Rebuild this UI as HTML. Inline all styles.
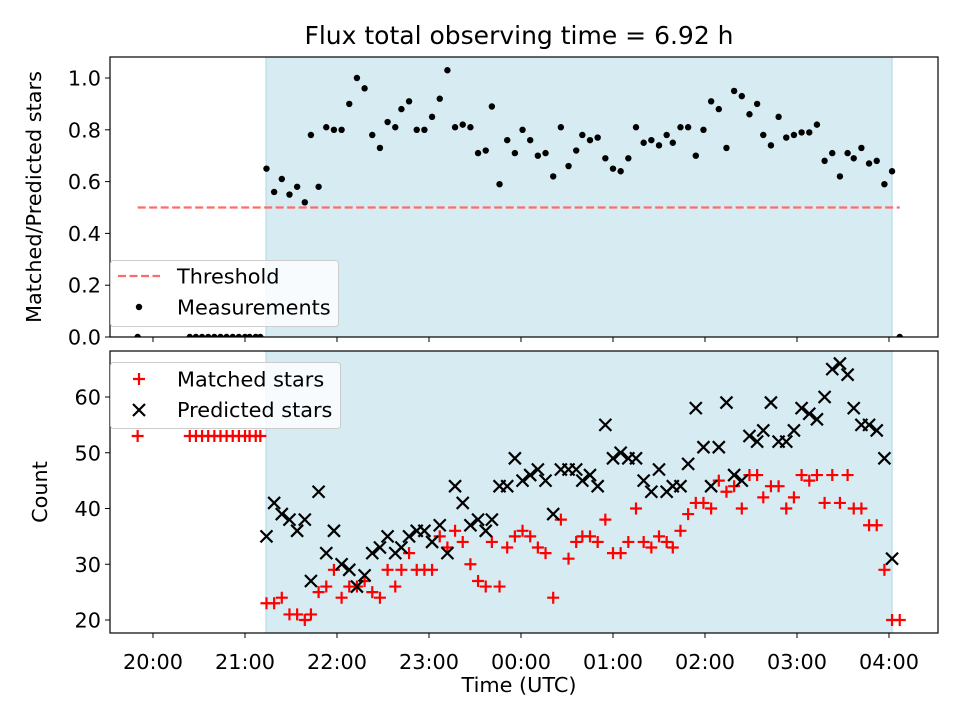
<!DOCTYPE html>
<html><head><meta charset="utf-8"><style>
body{margin:0;background:#fff}
svg text{font-family:"DejaVu Sans","Liberation Sans",sans-serif;fill:#000}
</style></head><body>
<svg id="chart" width="960" height="720" xmlns="http://www.w3.org/2000/svg">
<text x="519" y="44" style="font-size:25px" text-anchor="middle">Flux total observing time = 6.92 h</text>
<g id="top"></g>
<g id="bot"></g>
</svg>
<script>
const times=[74,79,84,89,94,99,103,108,113,118,123,128,133,138,143,148,153,158,162,167,172,177,182,187,192,197,202,207,212,217,221,226,231,236,241,246,251,256,261,266,271,276,280,285,290,295,300,305,310,315,320,325,330,335,339,344,349,354,359,364,369,374,379,384,389,394,398,403,408,413,418,423,428,433,438,443,448,453,457,462,467,472,477,482];
const ratio=[0.65,0.56,0.61,0.55,0.58,0.52,0.78,0.58,0.81,0.80,0.80,0.90,1.00,0.96,0.78,0.73,0.83,0.81,0.88,0.91,0.80,0.80,0.85,0.92,1.03,0.81,0.82,0.81,0.71,0.72,0.89,0.59,0.76,0.71,0.80,0.76,0.70,0.71,0.62,0.81,0.66,0.72,0.78,0.76,0.77,0.69,0.65,0.64,0.69,0.81,0.75,0.76,0.74,0.78,0.75,0.81,0.81,0.70,0.80,0.91,0.88,0.73,0.95,0.93,0.86,0.90,0.78,0.74,0.85,0.77,0.78,0.79,0.79,0.82,0.68,0.71,0.62,0.71,0.69,0.73,0.67,0.68,0.59,0.64];
const predicted=[35,41,39,38,36,38,27,43,32,36,30,29,26,28,32,33,35,32,33,35,36,36,34,37,32,44,41,37,38,36,38,44,44,49,45,46,47,45,39,47,47,47,45,46,44,55,49,50,49,49,45,43,47,43,44,44,48,58,51,44,51,59,46,45,53,52,54,59,52,52,54,58,57,56,60,65,66,64,58,55,55,54,49,31];
const matched=[23,23,24,21,21,20,21,25,26,29,24,26,26,27,25,24,29,26,29,32,29,29,29,35,33,36,34,30,27,26,34,26,33,35,36,35,33,32,24,38,31,34,35,35,34,38,32,32,34,40,34,33,35,34,33,36,39,41,41,40,45,43,44,40,46,46,42,44,44,40,42,46,45,46,41,46,41,46,40,40,37,37,29,20];
const zeroTimes=[-10,24,28,32,36,40,44,48,52,56,60,63,67,70,487];
const zeroMatched=[53,53,53,53,53,53,53,53,53,53,53,53,53,53,20];
const xTicks=["20:00","21:00","22:00","23:00","00:00","01:00","02:00","03:00","04:00"];
const topTicks=["0.0","0.2","0.4","0.6","0.8","1.0"];
const botTicks=[20,30,40,50,60];
const shade=[73.7,482];
const threshold=0.5, thrRange=[-10,487];

const NS="http://www.w3.org/2000/svg";
const L=110,R=938,FS='font-size:20.8px';
const X=m=>153+m*92/60;
const Yt=v=>337-v*259;
const Yb=v=>620-(v-20)*5.575;
function el(p,t,a){const e=document.createElementNS(NS,t);for(const k in a)e.setAttribute(k,a[k]);p.appendChild(e);return e;}
function panel(g,top,bot,yf,ticks,tickVals,label,ly){
  const s=el(g,'rect',{x:X(shade[0]),y:top,width:X(shade[1])-X(shade[0]),height:bot-top,fill:'#add8e6','fill-opacity':0.5,stroke:'#add8e6'});
  
  
  ticks.forEach((t,i)=>{const y=yf(tickVals[i]);
    el(g,'line',{x1:L-5,x2:L,y1:y,y2:y,stroke:'#000'});
    const tx=el(g,'text',{x:L-9,y:y+7.5,style:FS,'text-anchor':'end'});tx.textContent=t;
    
    
  });
  xTicks.forEach((t,i)=>{const x=X(i*60);el(g,'line',{x1:x,x2:x,y1:bot,y2:bot+5,stroke:'#000'});});
  const yl=el(g,'text',{transform:`translate(${ly},${(top+bot)/2}) rotate(-90)`,style:FS,'text-anchor':'middle'});yl.textContent=label;
  
  
}
function plus(g,x,y){el(g,'path',{d:`M${x-6},${y}H${x+6}M${x},${y-6}V${y+6}`,stroke:'#f00','stroke-width':2.2});}
function cross(g,x,y){el(g,'path',{d:`M${x-6},${y-6}L${x+6},${y+6}M${x-6},${y+6}L${x+6},${y-6}`,stroke:'#000','stroke-width':2.2});}

// top
const gt=document.getElementById('top');
panel(gt,57,337,Yt,topTicks,[0,0.2,0.4,0.6,0.8,1.0],'Matched/Predicted stars',41);
el(gt,'line',{x1:X(thrRange[0]),x2:X(thrRange[1]),y1:Yt(threshold),y2:Yt(threshold),stroke:'#ff6b6b','stroke-width':2.2,'stroke-dasharray':'8,3.5'});
const cp=el(gt,'clipPath',{id:'ct'});el(cp,'rect',{x:L,y:57,width:R-L,height:280});
const dg=el(gt,'g',{'clip-path':'url(#ct)'});
times.forEach((t,i)=>{const c=el(dg,'circle',{cx:X(t),cy:Yt(ratio[i]),r:3.2,fill:'#000'});
  
  });
zeroTimes.forEach(t=>{el(dg,'circle',{cx:X(t),cy:Yt(0),r:3.2,fill:'#000'});});
el(gt,'rect',{x:L,y:57,width:R-L,height:280,fill:'none',stroke:'#000','stroke-width':1.2});
const lg=el(gt,'g',{});
el(lg,'rect',{x:110.5,y:260.5,width:228,height:66,rx:3,fill:'#fff','fill-opacity':0.8,stroke:'#ccc'});
el(lg,'line',{x1:118,x2:160,y1:276,y2:276,stroke:'#ff6b6b','stroke-width':2.2,'stroke-dasharray':'8,3.5'});
el(lg,'text',{x:177,y:283.5,style:FS}).textContent='Threshold';
el(lg,'circle',{cx:139,cy:307,r:3.2,fill:'#000'});
el(lg,'text',{x:177,y:314.5,style:FS}).textContent='Measurements';

// bottom
const gb=document.getElementById('bot');
panel(gb,351,633,Yb,botTicks.map(String),botTicks,'Count',47);
times.forEach((t,i)=>{const g1=el(gb,'g',{});plus(g1,X(t),Yb(matched[i]));});
zeroTimes.forEach((t,i)=>plus(gb,X(t),Yb(zeroMatched[i])));
times.forEach((t,i)=>{const g1=el(gb,'g',{});cross(g1,X(t),Yb(predicted[i]));});
el(gb,'rect',{x:L,y:351,width:R-L,height:282,fill:'none',stroke:'#000','stroke-width':1.2});
xTicks.forEach((t,i)=>{const tx=el(gb,'text',{x:X(i*60),y:669,style:FS,'text-anchor':'middle'});tx.textContent=t;
  });
const xl=el(gb,'text',{x:519,y:692,style:FS,'text-anchor':'middle'});xl.textContent='Time (UTC)';

const lb=el(gb,'g',{});
el(lb,'rect',{x:110.5,y:362.5,width:230,height:66,rx:3,fill:'#fff','fill-opacity':0.8,stroke:'#ccc'});
plus(lb,139,379);el(lb,'text',{x:177,y:386.5,style:FS}).textContent='Matched stars';
cross(lb,139,410);el(lb,'text',{x:177,y:417,style:FS}).textContent='Predicted stars';
</script>
</body></html>
